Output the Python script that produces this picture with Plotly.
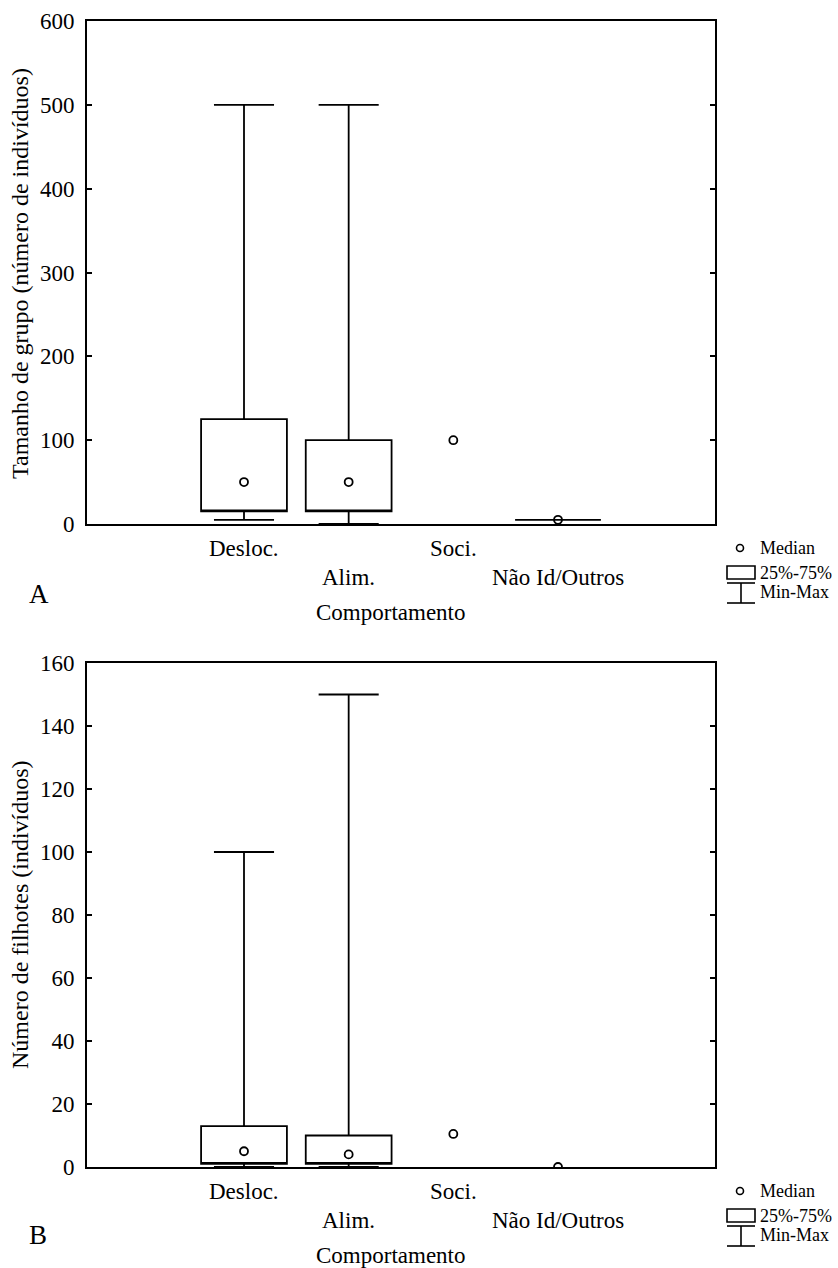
import plotly.graph_objects as go

W, H = 838, 1268

categories = ["Desloc.", "Alim.", "Soci.", "Não Id/Outros"]

# Panel A – Tamanho de grupo (número de indivíduos)
a_box_cats = ["Desloc.", "Alim.", "Não Id/Outros"]
a_min = [5, 0, 5]
a_q1 = [15, 15, 5]
a_q3 = [125, 100, 5]
a_max = [500, 500, 5]
a_median = [50, 50, 100, 5]

# Panel B – Número de filhotes (indivíduos)
b_box_cats = ["Desloc.", "Alim."]
b_min = [0, 0]
b_q1 = [1, 1]
b_q3 = [13, 10]
b_max = [100, 150]
b_median = [5, 4, 10.5, 0]

a_ticks = [0, 100, 200, 300, 400, 500, 600]
b_ticks = [0, 20, 40, 60, 80, 100, 120, 140, 160]

FONT = "Liberation Serif"


def px(x):
    return x / W


def py(y):
    return 1 - y / H


fig = go.Figure()

box_style = dict(
    width=0.82,
    whiskerwidth=0.7,
    fillcolor="rgba(0,0,0,0)",
    line=dict(color="black", width=1.8),
    boxpoints=False,
    showlegend=False,
    hoverinfo="skip",
)
med_style = dict(
    mode="markers",
    marker=dict(symbol="circle-open", size=8, color="black", line=dict(width=1.8)),
    showlegend=False,
)

# Median line hidden by placing it on the box bottom edge (the reference marks
# the median with a circle only); medians drawn as circles below.
fig.add_trace(go.Box(x=a_box_cats, q1=a_q1, median=a_q1, q3=a_q3,
                     lowerfence=a_min, upperfence=a_max,
                     xaxis="x", yaxis="y", **box_style))
fig.add_trace(go.Scatter(x=categories, y=a_median, xaxis="x", yaxis="y", **med_style))

fig.add_trace(go.Box(x=b_box_cats, q1=b_q1, median=b_q1, q3=b_q3,
                     lowerfence=b_min, upperfence=b_max,
                     xaxis="x2", yaxis="y2", **box_style))
fig.add_trace(go.Scatter(x=categories, y=b_median, xaxis="x2", yaxis="y2", **med_style))

xdom = [px(87), px(715)]
a_dom = [py(524), py(21)]
b_dom = [py(1167), py(663)]

xcommon = dict(
    type="category", categoryorder="array", categoryarray=categories,
    range=[-1.5, 4.5], showline=True, linecolor="black", linewidth=2,
    mirror=True, ticks="", showticklabels=False, showgrid=False,
    zeroline=False, domain=xdom, fixedrange=True, automargin=False,
)
ycommon = dict(
    showline=True, linecolor="black", linewidth=2, mirror="ticks",
    ticks="inside", ticklen=5, tickwidth=2, tickcolor="black",
    showgrid=False, zeroline=False, ticklabelstandoff=6, automargin=False,
    tickfont=dict(family=FONT, size=23, color="black"),
)

fig.update_layout(
    width=W, height=H,
    margin=dict(l=0, r=0, t=0, b=0, autoexpand=False),
    paper_bgcolor="white", plot_bgcolor="white",
    font=dict(family=FONT, size=22, color="black"),
    xaxis=dict(**xcommon, anchor="y"),
    yaxis=dict(**ycommon, domain=a_dom, range=[0, 600], tickvals=a_ticks, anchor="x"),
    xaxis2=dict(**xcommon, anchor="y2"),
    yaxis2=dict(**ycommon, domain=b_dom, range=[0, 160], tickvals=b_ticks, anchor="x2"),
    showlegend=False,
)

annotations = []
shapes = []

panels = [
    dict(xref="x", base=524, letter="A", letter_xy=(39, 594),
         ytitle="Tamanho de grupo (número de indivíduos)", ycenter=274),
    dict(xref="x2", base=1167, letter="B", letter_xy=(38, 1235),
         ytitle="Número de filhotes (indivíduos)", ycenter=915),
]

for p in panels:
    base = p["base"]
    # staggered category labels
    for i, c in enumerate(categories):
        row_y = base + (24 if i % 2 == 0 else 53)
        annotations.append(dict(
            x=c, xref=p["xref"], y=py(row_y), yref="paper",
            text=c, showarrow=False, xanchor="center", yanchor="middle",
            font=dict(family=FONT, size=23, color="black")))
    # x axis title
    annotations.append(dict(
        x=px(390), xref="paper", y=py(base + 88), yref="paper",
        text="Comportamento", showarrow=False, xanchor="center", yanchor="middle",
        font=dict(family=FONT, size=23, color="black")))
    # y axis title
    annotations.append(dict(
        x=px(20), xref="paper", y=py(p["ycenter"]), yref="paper",
        text=p["ytitle"], textangle=-90, showarrow=False,
        xanchor="center", yanchor="middle",
        font=dict(family=FONT, size=24, color="black")))
    # panel letter
    lx, ly = p["letter_xy"]
    annotations.append(dict(
        x=px(lx), xref="paper", y=py(ly), yref="paper", text=p["letter"],
        showarrow=False, xanchor="center", yanchor="middle",
        font=dict(family=FONT, size=27, color="black")))

    # legend key
    lw = dict(color="black", width=1.6)
    shapes.append(dict(type="circle", xref="paper", yref="paper",
                       x0=px(736.5), x1=px(743.5), y0=py(base + 20.5), y1=py(base + 27.5),
                       line=lw))
    shapes.append(dict(type="rect", xref="paper", yref="paper",
                       x0=px(727), x1=px(755), y0=py(base + 55), y1=py(base + 42),
                       line=lw))
    for yy in (base + 59, base + 79):
        shapes.append(dict(type="line", xref="paper", yref="paper",
                           x0=px(727), x1=px(755), y0=py(yy), y1=py(yy), line=lw))
    shapes.append(dict(type="line", xref="paper", yref="paper",
                       x0=px(741), x1=px(741), y0=py(base + 59), y1=py(base + 79), line=lw))
    for txt, off in (("Median", 24), ("25%-75%", 49), ("Min-Max", 68)):
        annotations.append(dict(
            x=px(758), xref="paper", y=py(base + off), yref="paper", text=txt,
            showarrow=False, xanchor="left", yanchor="middle",
            font=dict(family=FONT, size=18, color="black")))

fig.update_layout(annotations=annotations, shapes=shapes)

fig.write_html("out.html")
